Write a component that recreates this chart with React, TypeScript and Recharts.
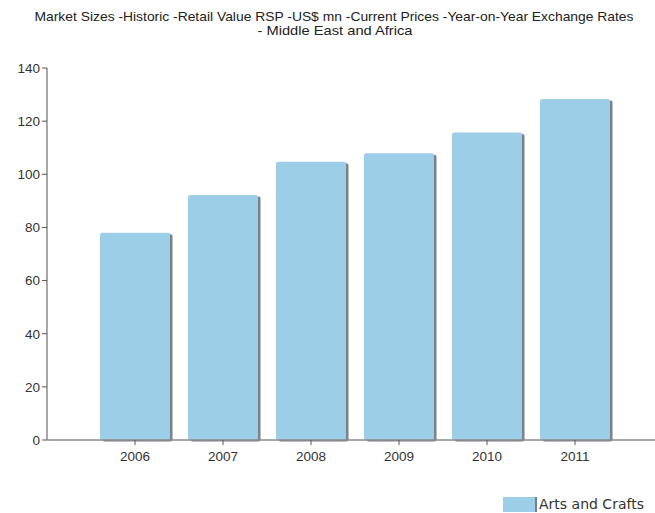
import React from 'react';
import { BarChart, Bar, XAxis, YAxis, Legend } from 'recharts';

const categories = ['2006', '2007', '2008', '2009', '2010', '2011'];
const artsAndCrafts = [78.0, 92.2, 104.7, 107.9, 115.7, 128.3];
const yTicks = [0, 20, 40, 60, 80, 100, 120, 140];
const seriesName = 'Arts and Crafts';
const titleLines = [
  'Market Sizes -Historic -Retail Value RSP -US$ mn -Current Prices -Year-on-Year Exchange Rates',
  '- Middle East and Africa',
];

const data = categories.map((c, i) => ({ year: c, value: artsAndCrafts[i] }));

const BAR_COLOR = '#9DCEE8';

const ShadowBar = (props: any) => {
  const { x, y, width, height } = props;
  if (height <= 0) return null;
  return (
    <g>
      <rect x={x + 2.5} y={y + 1.5} width={width} height={height} rx={2} fill="#7b828a" />
      <rect x={x} y={y} width={width} height={height} rx={2} fill={BAR_COLOR} />
    </g>
  );
};

const LegendContent = () => (
  <div style={{ display: 'flex', alignItems: 'center', fontFamily: '"DejaVu Sans", Verdana, sans-serif', fontSize: 14, color: '#333', height: 16 }}>
    <svg width={36} height={16}>
      <rect x={2} y={1} width={32} height={15} fill={BAR_COLOR} />
      <rect x={34} y={1} width={2} height={15} fill="#7a8088" />
    </svg>
    <span style={{ marginLeft: 2 }}>{seriesName}</span>
  </div>
);

export default function App() {
  return (
    <div style={{ position: 'absolute', left: 0, top: 0, width: 655, height: 513, background: '#fff' }}>
      <svg width={655} height={50} style={{ position: 'absolute', left: 0, top: 0 }}>
        <text x={334} y={21} textAnchor="middle" fontFamily='"Liberation Sans Narrow", "Liberation Sans", Arial, sans-serif' fontSize={13} fill="#222" textLength={599} lengthAdjust="spacingAndGlyphs">
          {titleLines[0]}
        </text>
        <text x={335} y={35} textAnchor="middle" fontFamily='"Liberation Sans Narrow", "Liberation Sans", Arial, sans-serif' fontSize={13} fill="#222" textLength={155} lengthAdjust="spacingAndGlyphs">
          {titleLines[1]}
        </text>
      </svg>
      <div style={{ position: 'absolute', left: 0, top: 0 }}>
        <BarChart width={655} height={513} data={data} margin={{ top: 68, right: 0, left: 0, bottom: 27 }} barSize={70}>
          <XAxis
            dataKey="year"
            padding={{ left: 44, right: 36 }}
            axisLine={{ stroke: '#8a8a8a', strokeWidth: 1.5 }}
            tickLine={{ stroke: '#555' }}
            tickSize={5}
            height={30}
            tick={{ fill: '#333', fontSize: 13.5, fontFamily: '"Liberation Sans", Arial, sans-serif', dy: 4 }}
          />
          <YAxis
            domain={[0, 140]}
            ticks={yTicks}
            width={47}
            axisLine={{ stroke: '#8a8a8a', strokeWidth: 1.5 }}
            tickLine={{ stroke: '#555' }}
            tickSize={5}
            tick={{ fill: '#333', fontSize: 13.5, fontFamily: '"Liberation Sans", Arial, sans-serif' }}
          />
          <Legend
            content={<LegendContent />}
            wrapperStyle={{ position: 'absolute', left: 501, top: 496, width: 160, height: 16 }}
          />
          <Bar dataKey="value" name={seriesName} fill={BAR_COLOR} shape={<ShadowBar />} isAnimationActive={false} />
        </BarChart>
      </div>
    </div>
  );
}
